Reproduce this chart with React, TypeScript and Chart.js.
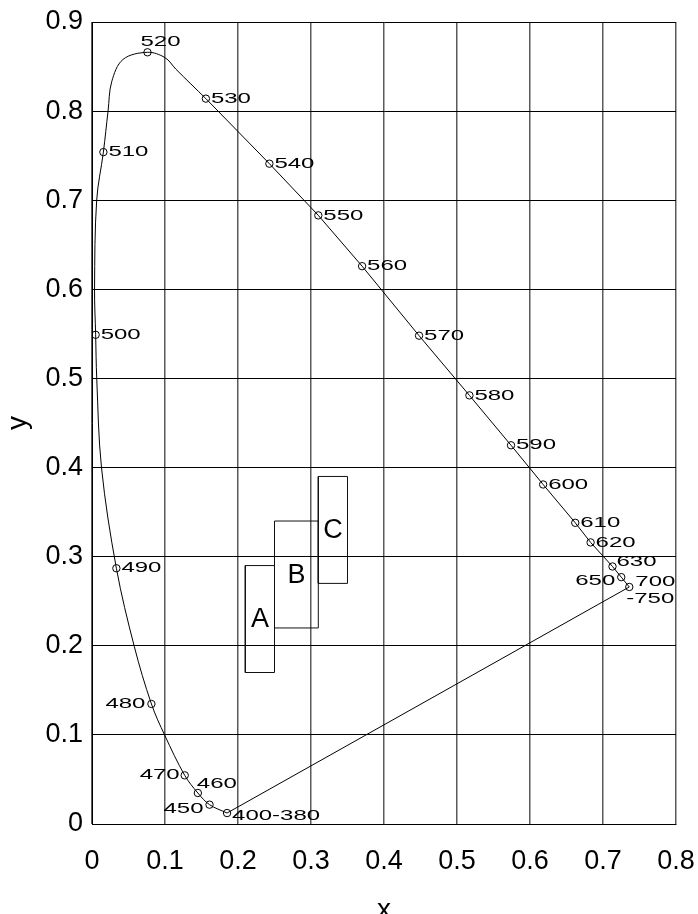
import React, { useEffect, useRef } from "react";
import { Chart, registerables } from "chart.js";

Chart.register(...registerables);

// Labelled spectral-locus points (wavelength in nm)
const wavelengthLabels = ["400-380", "450", "460", "470", "480", "490", "500", "510", "520", "530", "540", "550", "560", "570", "580", "590", "600", "610", "620", "630", "650", "700-750"];
const locusX = [0.185, 0.161, 0.145, 0.127, 0.0814, 0.0334, 0.005, 0.0156, 0.076, 0.156, 0.243, 0.31, 0.37, 0.448, 0.517, 0.574, 0.618, 0.662, 0.683, 0.713, 0.725, 0.736];
const locusY = [0.0123, 0.0217, 0.0348, 0.0546, 0.1347, 0.287, 0.549, 0.754, 0.866, 0.814, 0.741, 0.683, 0.626, 0.548, 0.481, 0.425, 0.381, 0.338, 0.316, 0.289, 0.277, 0.266];

// Curved part of the locus (blue/green end)
const curveX = [0.185, 0.161, 0.145, 0.127, 0.0997, 0.0814, 0.058, 0.0334, 0.013, 0.0065, 0.005, 0.0035, 0.0064, 0.0156, 0.022, 0.027, 0.0425, 0.076, 0.1, 0.115, 0.156];
const curveY = [0.0123, 0.0217, 0.0348, 0.0546, 0.0995, 0.1347, 0.199, 0.287, 0.4, 0.5, 0.549, 0.6, 0.7, 0.754, 0.8, 0.833, 0.858, 0.866, 0.86, 0.847, 0.814];

// Straight part of the locus plus the purple line
const edgeX = [0.156, 0.243, 0.31, 0.37, 0.448, 0.517, 0.574, 0.618, 0.662, 0.683, 0.713, 0.725, 0.736, 0.185];
const edgeY = [0.814, 0.741, 0.683, 0.626, 0.548, 0.481, 0.425, 0.381, 0.338, 0.316, 0.289, 0.277, 0.266, 0.0123];

// Rectangles A, B, C
const boxNames = ["A", "B", "C"];
const boxXMin = [0.21, 0.25, 0.31];
const boxXMax = [0.25, 0.31, 0.35];
const boxYMin = [0.17, 0.22, 0.27];
const boxYMax = [0.29, 0.34, 0.39];

const xTickValues = [0, 0.1, 0.2, 0.3, 0.4, 0.5, 0.6, 0.7, 0.8];
const yTickValues = [0, 0.1, 0.2, 0.3, 0.4, 0.5, 0.6, 0.7, 0.8, 0.9];

const TICK_FONT = "'Liberation Sans', Arial, sans-serif";
const LABEL_FONT = "'Liberation Sans', Arial, sans-serif";

type Place = { dx: number; dy: number; align: CanvasTextAlign };
const defaultPlace: Place = { dx: 5, dy: 0, align: "left" };
const placements: Record<string, Place[]> = {
  "520": [{ dx: -7, dy: -10.5, align: "left" }],
  "480": [{ dx: -6, dy: 0, align: "right" }],
  "470": [{ dx: -5, dy: 0, align: "right" }],
  "460": [{ dx: -1, dy: -9, align: "left" }],
  "450": [{ dx: -6, dy: 4, align: "right" }],
  "400-380": [{ dx: 5, dy: 3, align: "left" }],
  "630": [{ dx: 4, dy: -5, align: "left" }],
  "650": [{ dx: -6, dy: 4, align: "right" }],
  "700-750": [
    { dx: 6, dy: -5, align: "left" },
    { dx: -3, dy: 12, align: "left" },
  ],
};

function pts(xs: number[], ys: number[]) {
  return xs.map((x, i) => ({ x, y: ys[i] }));
}

const labelPlugin = {
  id: "cieLabels",
  afterDatasetsDraw(chart: any) {
    const { ctx, scales } = chart;
    const sx = scales.x;
    const sy = scales.y;
    ctx.save();
    ctx.fillStyle = "#000";
    ctx.font = `15px ${LABEL_FONT}`;
    ctx.textBaseline = "middle";
    wavelengthLabels.forEach((lab, i) => {
      const px = sx.getPixelForValue(locusX[i]);
      const py = sy.getPixelForValue(locusY[i]);
      const pl = placements[lab] || [defaultPlace];
      const texts = lab === "700-750" ? ["700", "-750"] : [lab];
      texts.forEach((t, k) => {
        const p = pl[k] || pl[0];
        ctx.save();
        ctx.translate(px + p.dx, py + p.dy);
        ctx.scale(1.6, 1);
        ctx.textAlign = p.align;
        ctx.fillText(t, 0, 0);
        ctx.restore();
      });
    });
    ctx.font = `27px ${LABEL_FONT}`;
    ctx.textAlign = "center";
    boxNames.forEach((n, i) => {
      const cx = sx.getPixelForValue((boxXMin[i] + boxXMax[i]) / 2);
      const cy = sy.getPixelForValue((boxYMin[i] + boxYMax[i]) / 2);
      ctx.fillText(n, cx, cy + 1);
    });
    ctx.restore();
  },
};

export default function App() {
  const ref = useRef<HTMLCanvasElement | null>(null);

  useEffect(() => {
    if (!ref.current) return;
    const boxSets = boxNames.map((n, i) => ({
      label: n,
      data: pts(
        [boxXMin[i], boxXMax[i], boxXMax[i], boxXMin[i], boxXMin[i]],
        [boxYMin[i], boxYMin[i], boxYMax[i], boxYMax[i], boxYMin[i]]
      ),
      showLine: true,
      borderColor: "#111",
      borderWidth: 1,
      pointRadius: 0,
      tension: 0,
      fill: false,
    }));
    const chart = new Chart(ref.current, {
      type: "scatter",
      data: {
        datasets: [
          {
            label: "curve",
            data: pts(curveX, curveY),
            showLine: true,
            borderColor: "#000",
            borderWidth: 1,
            pointRadius: 0,
            tension: 0.35,
            fill: false,
          },
          {
            label: "edge",
            data: pts(edgeX, edgeY),
            showLine: true,
            borderColor: "#000",
            borderWidth: 1,
            pointRadius: 0,
            tension: 0,
            fill: false,
          },
          ...boxSets,
          {
            label: "points",
            data: pts(locusX, locusY),
            showLine: false,
            pointStyle: "circle",
            pointRadius: 3.7,
            pointBorderWidth: 1,
            borderColor: "#000",
            backgroundColor: "rgba(0,0,0,0)",
          },
        ] as any,
      },
      options: {
        animation: false,
        responsive: false,
        devicePixelRatio: 1,
        layout: { padding: { top: 22, right: 22, left: 0, bottom: 0 } },
        plugins: { legend: { display: false }, tooltip: { enabled: false } },
        scales: {
          x: {
            type: "linear",
            min: 0,
            max: 0.8,
            afterFit: (s: any) => {
              s.height = 90;
              s.paddingLeft = 0;
              s.paddingRight = 0;
            },
            afterBuildTicks: (s: any) => {
              s.ticks = xTickValues.map((v) => ({ value: v }));
            },
            ticks: {
              font: { family: TICK_FONT, size: 27 },
              color: "#000",
              padding: 21,
              maxRotation: 0,
              callback: (v: any) => String(Number(Number(v).toFixed(1))),
            },
            grid: { color: "#5a5a5a", lineWidth: 1.5, drawTicks: false },
            border: { color: "#000", width: 1 },
            title: {
              display: true,
              text: "x",
              color: "#000",
              font: { family: TICK_FONT, size: 28, lineHeight: 1 },
              padding: { top: 0, bottom: -10 },
            },
          },
          y: {
            type: "linear",
            min: 0,
            max: 0.9,
            afterFit: (s: any) => {
              s.width = 92;
              s.paddingTop = 0;
              s.paddingBottom = 0;
            },
            afterBuildTicks: (s: any) => {
              s.ticks = yTickValues.map((v) => ({ value: v }));
            },
            ticks: {
              font: { family: TICK_FONT, size: 27 },
              color: "#000",
              padding: 9,
              callback: (v: any) => String(Number(Number(v).toFixed(1))),
            },
            grid: { color: "#000", lineWidth: 1, drawTicks: false },
            border: { color: "#000", width: 1 },
            title: {
              display: true,
              text: "y",
              color: "#000",
              font: { family: TICK_FONT, size: 28, lineHeight: 1 },
              padding: { top: 4, bottom: 0 },
            },
          },
        },
      } as any,
      plugins: [labelPlugin],
    });
    return () => chart.destroy();
  }, []);

  return (
    <div style={{ position: "absolute", left: 0, top: 0, width: 698, height: 914, background: "#fff" }}>
      <canvas ref={ref} width={698} height={914} style={{ display: "block", width: 698, height: 914 }} />
    </div>
  );
}
